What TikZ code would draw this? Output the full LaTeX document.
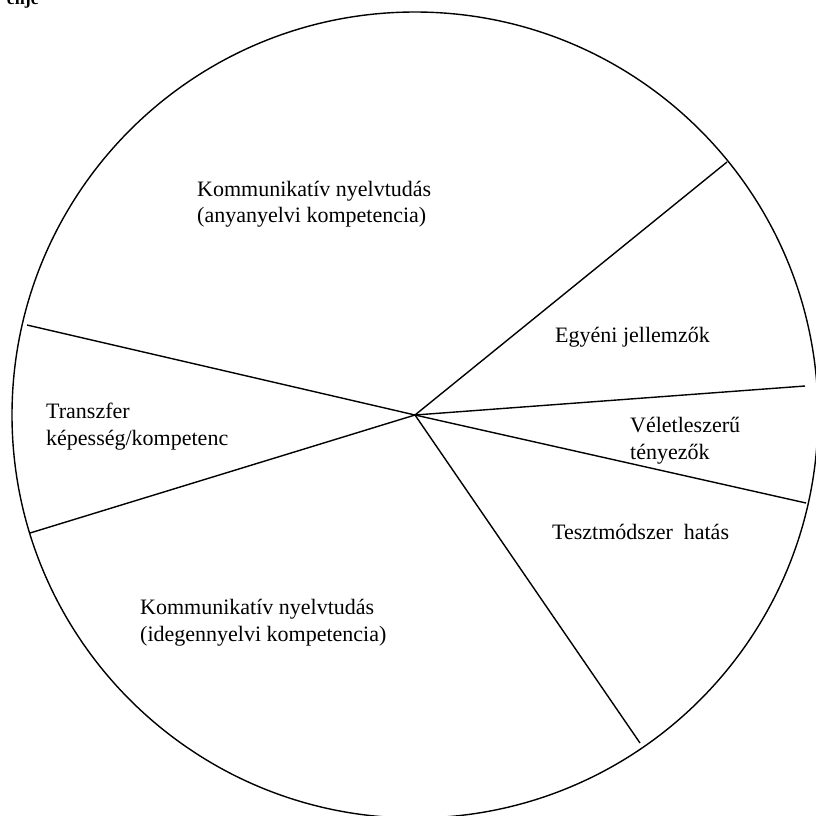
\documentclass[tikz,border=0pt]{standalone}
\usepackage{fontspec}
\setmainfont{Liberation Serif}
\begin{document}
\begin{tikzpicture}[x=1pt,y=-1pt,
  lbl/.style={inner sep=0pt,anchor=base west,align=left,font=\fontsize{22}{26.5}\selectfont},
  seg/.style={line width=1.4pt}]
\useasboundingbox (0,0) rectangle (816,815);
\clip (0,0) rectangle (816,815);
\coordinate (hub) at (415,415);
\coordinate (pUL) at (27,325);
\coordinate (pLL) at (30,533);
\coordinate (pUR) at (727,162);
\coordinate (pR) at (805,386);
\coordinate (pR2) at (806,503);
\coordinate (pB) at (640,743);
\draw[seg] (hub) circle[radius=403];
\draw[seg] (hub) -- (pUL);
\draw[seg] (hub) -- (pLL);
\draw[seg] (hub) -- (pUR);
\draw[seg] (hub) -- (pR);
\draw[seg] (hub) -- (pR2);
\draw[seg] (hub) -- (pB);
\node[inner sep=0pt,anchor=base east,font=\fontsize{18}{20}\selectfont\bfseries] (cap) at (39,4) {enje};
\node[lbl] (t1) at (197,222.5) {Kommunikatív nyelvtudás\\(anyanyelvi kompetencia)};
\node[lbl] (t2) at (555,342) {Egyéni jellemzők};
\node[lbl] (t3) at (630,459) {Véletleszerű\\tényezők};
\node[lbl] (t4) at (552,539) {Tesztmódszer\ \ hatás};
\node[lbl] (t5) at (46,445) {Transzfer\\képesség/kompetenc};
\node[lbl] (t6) at (140,641) {Kommunikatív nyelvtudás\\(idegennyelvi kompetencia)};
\end{tikzpicture}
\end{document}
